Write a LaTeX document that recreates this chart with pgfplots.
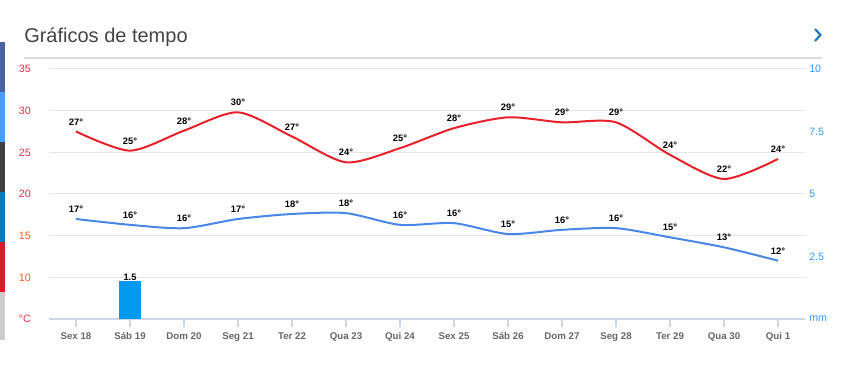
\documentclass[border=0pt]{standalone}
\usepackage{fontspec}
\setmainfont{Liberation Sans}
\usepackage{pgfplots}
\usepackage{pgfplotstable}
\pgfplotsset{compat=1.18}
\definecolor{tred}{HTML}{E8202A}
\definecolor{tblue}{HTML}{4A86E8}
\definecolor{bblue}{HTML}{0099EE}
\definecolor{lred}{HTML}{EE2A45}
\definecolor{lorange}{HTML}{FF5A1F}
\definecolor{rblue}{HTML}{3399FF}
\definecolor{gridc}{HTML}{E6E6E6}
\definecolor{axc}{HTML}{CCD6EB}
\definecolor{titlec}{HTML}{444444}
\definecolor{catc}{HTML}{666666}
\definecolor{chev}{HTML}{1A7AB8}
\definecolor{sA}{HTML}{4A64A0}
\definecolor{sB}{HTML}{4A9FF5}
\definecolor{sC}{HTML}{404040}
\definecolor{sD}{HTML}{0A7AB8}
\definecolor{sE}{HTML}{D0202A}
\definecolor{sF}{HTML}{CCCCCC}

\pgfplotstableread{
x y lab
0 27.5 27°
1 25.2 25°
2 27.6 28°
3 29.8 30°
4 26.9 27°
5 23.8 24°
6 25.5 25°
7 27.9 28°
8 29.2 29°
9 28.6 29°
10 28.6 29°
11 24.7 24°
12 21.8 22°
13 24.2 24°
}\tmax

\pgfplotstableread{
x y lab
0 17.0 17°
1 16.3 16°
2 15.9 16°
3 17.0 17°
4 17.6 18°
5 17.7 18°
6 16.3 16°
7 16.5 16°
8 15.2 15°
9 15.7 16°
10 15.9 16°
11 14.8 15°
12 13.6 13°
13 12.0 12°
}\tmin

\pgfplotstableread{
x y lab
1 1.5 1.5
}\rain

\begin{document}
\begin{tikzpicture}
\begin{scope}[x=0.75pt,y=0.75pt]
\useasboundingbox (0,0) rectangle (853,378);
% left colour strip
\fill[sA] (0,336) rectangle (4.5,286);
\fill[sB] (0,286) rectangle (4.5,236);
\fill[sC] (0,236) rectangle (4.5,186);
\fill[sD] (0,186) rectangle (4.5,136);
\fill[sE] (0,136) rectangle (4.5,86);
\fill[sF] (0,86) rectangle (4.5,38);
% title
\node[anchor=base west, inner sep=0pt, text=titlec] at (24,335) {\fontsize{15}{18}\selectfont Gráficos de tempo};
\draw[line width=1.1pt, draw=black!14] (24,320) -- (822,320);
\draw[chev, line width=1.6pt] (815,349) -- (820.5,343) -- (815,337);
\end{scope}

\begin{axis}[
  at={(36.75pt,44.25pt)}, anchor=south west,
  scale only axis, width=567pt, height=187.5pt,
  xmin=-0.5, xmax=13.5, ymin=5, ymax=35,
  axis x line*=bottom, axis y line*=left,
  x axis line style={draw=axc, line width=0.8pt, -},
  y axis line style={draw=none},
  ytick={5,10,15,20,25,30,35},
  yticklabels={\textcolor{lred}{°C},\textcolor{lorange}{10},\textcolor{lorange}{15},\textcolor{lred}{20},\textcolor{lred}{25},\textcolor{lred}{30},\textcolor{lred}{35}},
  ytick style={draw=none},
  yticklabel style={font=\fontsize{8}{9}\selectfont, anchor=east, inner sep=0pt, xshift=-7.5pt},
  xtick={0,...,13},
  xticklabels={Sex 18,Sáb 19,Dom 20,Seg 21,Ter 22,Qua 23,Qui 24,Sex 25,Sáb 26,Dom 27,Seg 28,Ter 29,Qua 30,Qui 1},
  xtick style={draw=axc, line width=0.8pt},
  tick align=outside, major tick length=6pt,
  xticklabel style={font=\fontsize{7.3}{8}\selectfont\bfseries, text=catc, anchor=north, inner sep=0pt, text height=5.5pt, text depth=0pt, yshift=-3.5pt},
  ymajorgrids, grid style={draw=gridc, line width=0.75pt},
  clip=false,
  nodes near coords, point meta=explicit symbolic,
  nodes near coords style={font=\fontsize{7}{8}\selectfont\bfseries, text=black, anchor=south, inner sep=0pt, yshift=4pt},
]
\addplot[tred, line width=1.5pt, smooth, tension=0.45, mark=none] table[x=x, y=y, meta=lab] {\tmax};
\addplot[tblue, line width=1.5pt, smooth, tension=0.45, mark=none] table[x=x, y=y, meta=lab] {\tmin};
\end{axis}

\begin{axis}[
  at={(36.75pt,44.25pt)}, anchor=south west,
  scale only axis, width=567pt, height=187.5pt,
  xmin=-0.5, xmax=13.5, ymin=0, ymax=10,
  hide x axis,
  axis y line*=right,
  y axis line style={draw=none},
  ytick={0,2.5,5,7.5,10},
  yticklabels={mm,2.5,5,7.5,10},
  ytick style={draw=none},
  yticklabel style={font=\fontsize{8}{9}\selectfont, text=rblue, anchor=west, inner sep=0pt, xshift=3pt},
  clip=false,
]
\addplot[ybar, bar width=16.5pt, fill=bblue, draw=none,
  nodes near coords, point meta=explicit symbolic,
  nodes near coords style={font=\fontsize{7}{8}\selectfont\bfseries, text=black, anchor=south, inner sep=0pt, yshift=0.5pt}]
  table[x=x, y=y, meta=lab] {\rain};
\end{axis}
\end{tikzpicture}
\end{document}
